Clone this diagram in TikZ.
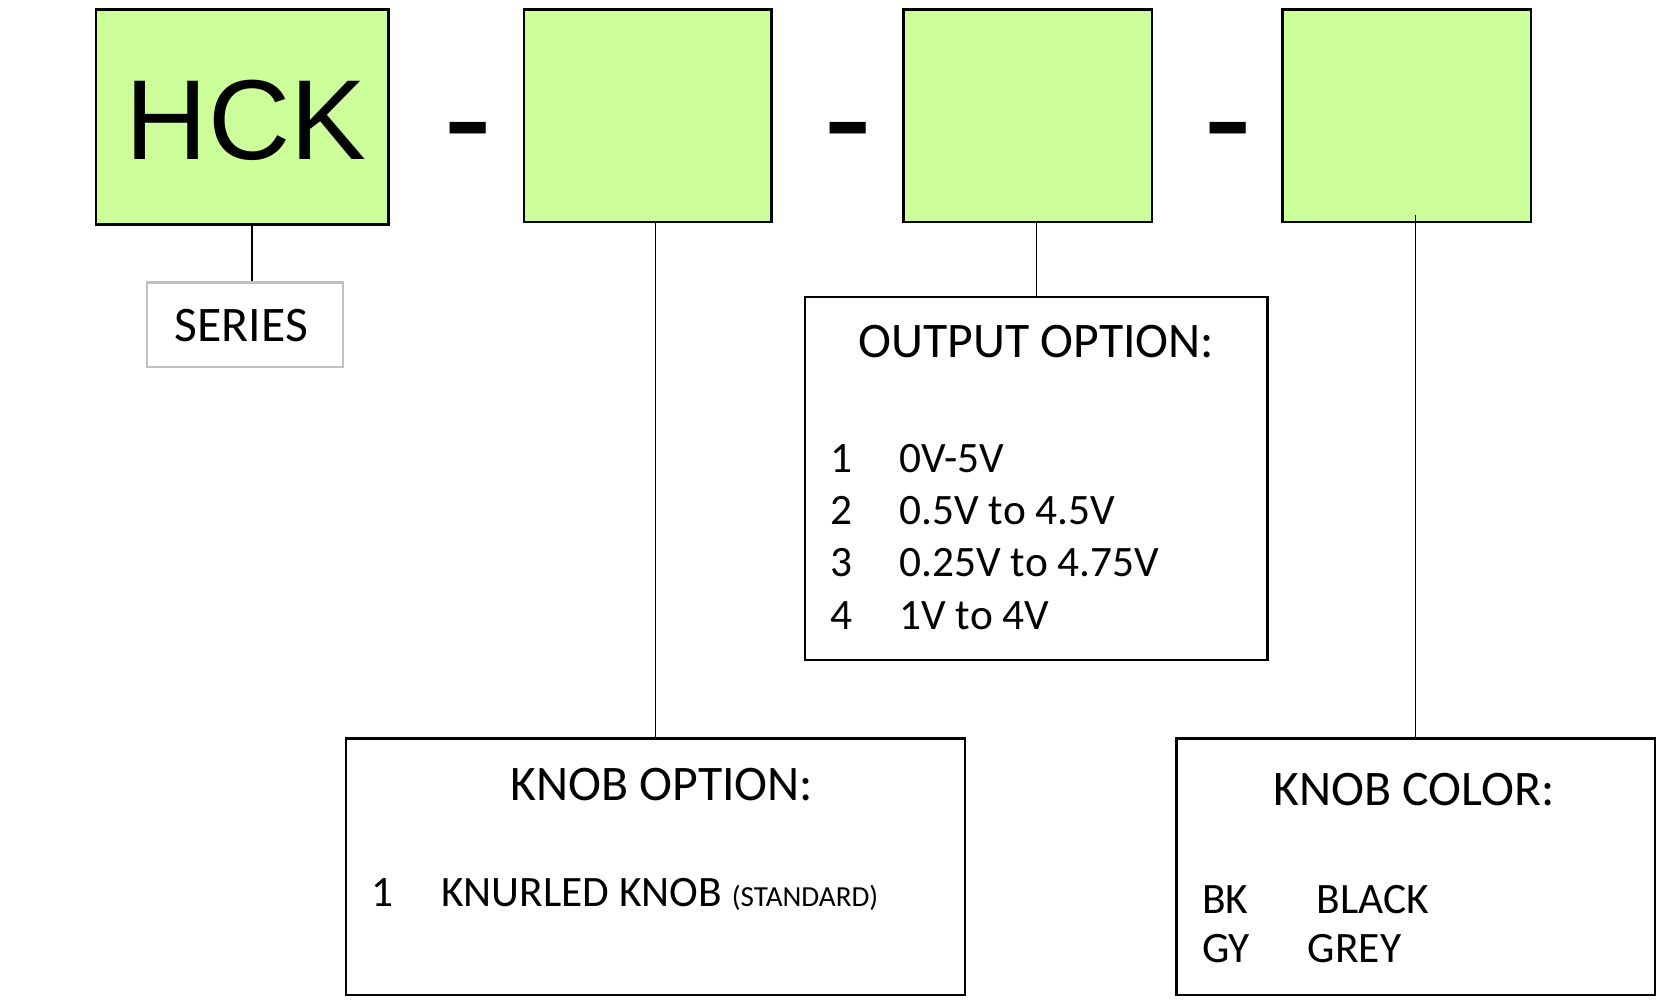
\documentclass[tikz,border=0pt]{standalone}
\usepackage{fontspec}
\setmainfont{Carlito}
\newfontfamily\arialf{Liberation Sans}
\definecolor{boxgreen}{RGB}{204,255,153}
\definecolor{sergray}{RGB}{192,192,192}
\begin{document}
\begin{tikzpicture}[x=1pt,y=-1pt,
  greenbox/.style={draw=black,line width=2.3pt,fill=boxgreen,inner sep=0pt},
  optbox/.style={draw=black,line width=2pt,fill=white,inner sep=0pt},
  serbox/.style={draw=sergray,line width=2pt,fill=white,inner sep=0pt},
  conn/.style={draw=black,line width=1.4pt},
  title/.style={anchor=base,inner sep=0pt,font=\fontsize{47}{50}\selectfont},
  item/.style={anchor=base west,inner sep=0pt,font=\fontsize{41}{44}\selectfont},
  dashtxt/.style={anchor=base,inner sep=0pt,font=\arialf\fontsize{140}{150}\selectfont}]
\useasboundingbox[fill=white] (0,0) rectangle (1568,945);

% top code boxes
\node[greenbox,minimum width=276,minimum height=203] (hck) at (229,110.5) {};
\node[greenbox,minimum width=234,minimum height=201] (b2) at (612,109.5) {};
\node[greenbox,minimum width=235,minimum height=201] (b3) at (971.5,109.5) {};
\node[greenbox,minimum width=235,minimum height=201] (b4) at (1329.5,109.5) {};
\node[anchor=base,inner sep=0pt,font=\arialf\fontsize{107.5}{110}\selectfont] (hcktxt) at (232.5,150.5) {HCK};

% separators
\node[dashtxt] (d1) at (442.5,158) {-};
\node[dashtxt] (d2) at (801.5,158) {-};
\node[dashtxt] (d3) at (1160.5,158) {-};

% lower boxes
\node[serbox,minimum width=185,minimum height=80] (series) at (231.5,307) {};
\node[anchor=base,inner sep=0pt,font=\fontsize{47}{50}\selectfont] (sertxt) at (228,323) {SERIES};

\node[optbox,minimum width=437,minimum height=343] (outopt) at (979.5,452.5) {};
\node[optbox,minimum width=585,minimum height=242] (knobopt) at (619.5,819) {};
\node[optbox,minimum width=452,minimum height=242] (kcolor) at (1338,819) {};

% output option text
\node[title] (outt) at (979.5,338) {OUTPUT OPTION:};
\node[item] (on1) at (785,447) {1};
\node[item] (ot1) at (850,447) {0V-5V};
\node[item] (on2) at (785,496) {2};
\node[item] (ot2) at (850,496) {0.5V to 4.5V};
\node[item] (on3) at (785,545) {3};
\node[item] (ot3) at (850,545) {0.25V to 4.75V};
\node[item] (on4) at (785,595) {4};
\node[item] (ot4) at (850,595) {1V to 4V};

% knob option text
\node[title] (kot) at (625.5,757) {KNOB OPTION:};
\node[item] (kn1) at (351,857) {1};
\node[item] (kt1) at (417,857) {KNURLED KNOB {\fontsize{27.5}{30}\selectfont (STANDARD)}};

% knob color text
\node[title] (kct) at (1336.5,761) {KNOB COLOR:};
\node[item] (kc1) at (1136,863) {BK};
\node[item] (kc1t) at (1244,863) {BLACK};
\node[item] (kc2) at (1136,910) {GY};
\node[item] (kc2t) at (1236,910) {GREY};

% connectors
\draw[conn] ([xshift=6.5pt]series.north) -- ([xshift=6.5pt]series.north |- hck.south);
\draw[conn] (knobopt.north) -- (knobopt.north |- b2.south);
\draw[conn] (outopt.north) -- (outopt.north |- b3.south);
\draw[conn] (kcolor.north) -- ([yshift=8pt]kcolor.north |- b4.south);
\end{tikzpicture}
\end{document}
